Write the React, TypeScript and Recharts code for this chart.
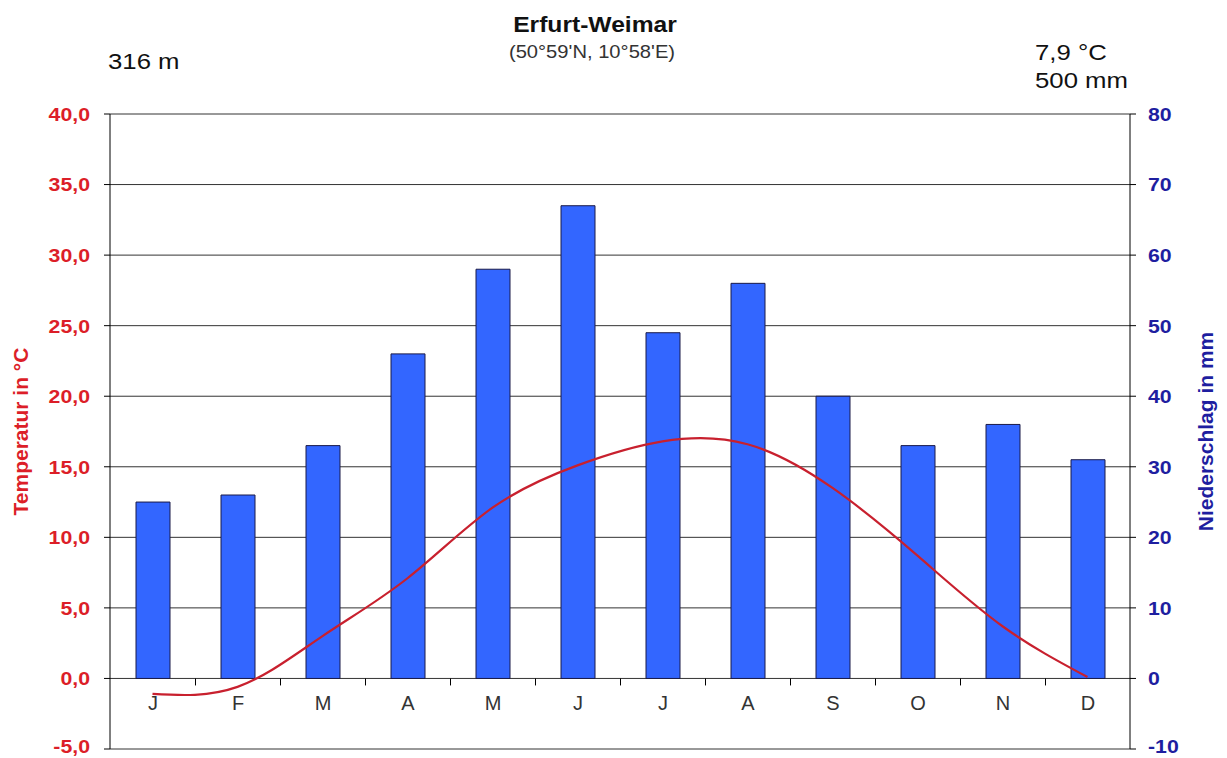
import React from 'react';
import { ComposedChart, Bar, Line, XAxis, YAxis, CartesianGrid, LabelList } from 'recharts';

const months = ['J', 'F', 'M', 'A', 'M', 'J', 'J', 'A', 'S', 'O', 'N', 'D'];
const precipitation = [25, 26, 33, 46, 58, 67, 49, 56, 40, 33, 36, 31];
const temperature = [-1.1, -0.6, 3.0, 7.1, 12.1, 15.1, 16.8, 16.6, 13.5, 8.7, 3.7, 0.1];
const tempTicks = [-5, 0, 5, 10, 15, 20, 25, 30, 35, 40];
const precTicks = [-10, 0, 10, 20, 30, 40, 50, 60, 70, 80];

const W = 1227;
const H = 758;
const LEFT_W = 110;
const RIGHT_W = 97;
const MARGIN = { top: 114, right: 0, bottom: 9, left: 0 };
const BAND = (W - LEFT_W - RIGHT_W) / months.length;

const FONT = 'Arial, "Liberation Sans", sans-serif';
const RED = '#DC1E28';
const BLUE = '#1E1EA0';
const SX = 1.12; // the reference is a bit stretched horizontally

const data = months.map((m, i) => ({
  month: m,
  prec: precipitation[i],
  temp: temperature[i],
}));

// lowest labels sit on the page edge; lift them a little so they stay whole
function tickDy(value: number, min: number) {
  return value === min ? '0.2em' : '0.36em';
}

function LeftTick(props: any) {
  const { x, y, payload } = props;
  return (
    <g transform={`translate(${x},${y}) scale(${SX},1)`}>
      <text x={0} y={0} dy={tickDy(payload.value, tempTicks[0])} textAnchor="end" fill={RED} fontSize={19} fontWeight="bold" fontFamily={FONT}>
        {payload.value.toFixed(1).replace('.', ',')}
      </text>
    </g>
  );
}

function RightTick(props: any) {
  const { x, y, payload } = props;
  return (
    <g transform={`translate(${x},${y}) scale(${SX},1)`}>
      <text x={0} y={0} dy={tickDy(payload.value, precTicks[0])} textAnchor="start" fill={BLUE} fontSize={19} fontWeight="bold" fontFamily={FONT}>
        {payload.value}
      </text>
    </g>
  );
}

function AxisTitle(props: any) {
  const { viewBox, value, color, dx } = props;
  const cx = viewBox.x + dx;
  const cy = viewBox.y + viewBox.height / 2;
  return (
    <text
      x={cx}
      y={cy}
      transform={`rotate(-90, ${cx}, ${cy})`}
      textAnchor="middle"
      dominantBaseline="central"
      fill={color}
      fontSize={21}
      fontWeight="bold"
      fontFamily={FONT}
    >
      {value}
    </text>
  );
}

// month names and category ticks sit on the zero line, i.e. at the bar base
function MonthLabel(props: any) {
  const vb = props.viewBox || props;
  const { x, y, width, height } = vb;
  const cx = x + width / 2;
  const base = y + height;
  const left = cx - BAND / 2;
  return (
    <g>
      {props.index > 0 && <line x1={left} y1={base} x2={left} y2={base + 7} stroke="#000" strokeWidth={1} />}
      <text x={cx} y={base + 32} textAnchor="middle" fill="#333" fontSize={20} fontFamily={FONT}>
        {months[props.index]}
      </text>
    </g>
  );
}

function Header() {
  const t = (x: number, y: number, s: string, size: number, anchor: string, bold = false, color = '#111') => (
    <g transform={`translate(${x},${y}) scale(${SX},1)`}>
      <text x={0} y={0} textAnchor={anchor as any} fontSize={size} fontWeight={bold ? 'bold' : 'normal'} fill={color} fontFamily={FONT}>
        {s}
      </text>
    </g>
  );
  return (
    <svg width={W} height={120} style={{ position: 'absolute', left: 0, top: 0, pointerEvents: 'none' }}>
      {t(595, 32, 'Erfurt-Weimar', 22, 'middle', true)}
      {t(592, 58, "(50°59'N, 10°58'E)", 18, 'middle', false, '#333')}
      {t(108, 69, '316 m', 23, 'start')}
      {t(1035, 60, '7,9 °C', 23, 'start')}
      {t(1035, 88, '500 mm', 23, 'start')}
    </svg>
  );
}

export default function App() {
  return (
    <div style={{ position: 'absolute', left: 0, top: 0, width: W, height: H, background: '#fff' }}>
      <ComposedChart width={W} height={H} data={data} margin={MARGIN}>
        <CartesianGrid vertical={false} stroke="#333" strokeOpacity={1} yAxisId="t" />
        <XAxis dataKey="month" hide />
        <YAxis
          yAxisId="t"
          orientation="left"
          width={LEFT_W}
          domain={[-5, 40]}
          ticks={tempTicks}
          interval={0}
          axisLine={{ stroke: '#000' }}
          tickLine={{ stroke: '#000' }}
          tickSize={6}
          tickMargin={14}
          tick={<LeftTick />}
          label={<AxisTitle value="Temperatur in °C" color={RED} dx={20} />}
        />
        <YAxis
          yAxisId="p"
          orientation="right"
          width={RIGHT_W}
          domain={[-10, 80]}
          ticks={precTicks}
          interval={0}
          axisLine={{ stroke: '#000' }}
          tickLine={{ stroke: '#000' }}
          tickSize={6}
          tickMargin={12}
          tick={<RightTick />}
          label={<AxisTitle value="Niederschlag in mm" color={BLUE} dx={75} />}
        />
        <Bar yAxisId="p" dataKey="prec" barSize={34} fill="#3366FF" stroke="#1A1A48" strokeWidth={1} isAnimationActive={false}>
          <LabelList dataKey="month" content={<MonthLabel />} />
        </Bar>
        <Line
          yAxisId="t"
          dataKey="temp"
          type="natural"
          stroke="#C8202E"
          strokeWidth={2.2}
          dot={false}
          activeDot={false}
          isAnimationActive={false}
        />
      </ComposedChart>
      <Header />
    </div>
  );
}
